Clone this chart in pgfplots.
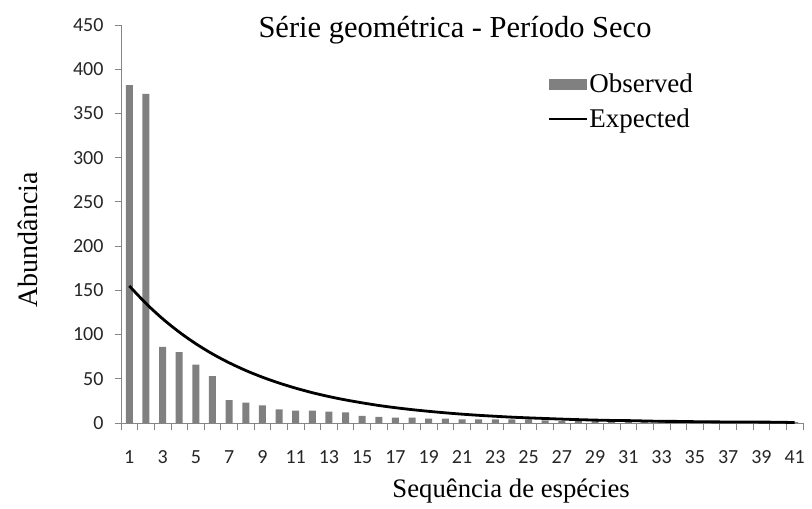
\documentclass[border=0pt]{standalone}
\usepackage{fontspec}
\setmainfont{Liberation Serif}
\newfontfamily\tickfont{Carlito}
\usepackage{pgfplots}
\pgfplotsset{compat=1.18}
\definecolor{bargray}{HTML}{808080}
\definecolor{axgray}{HTML}{868686}
\definecolor{ticktxt}{HTML}{262626}
\newcommand{\tickfmt}{\tickfont\fontsize{20bp}{24bp}\selectfont}

\begin{document}
\begin{tikzpicture}
\useasboundingbox (-121bp,-86bp) rectangle (691bp,423bp);
\begin{axis}[
  scale only axis, width=682bp, height=398bp,
  at={(0,0)}, anchor=south west,
  xmin=0.5, xmax=41.5, ymin=0, ymax=450,
  axis x line=bottom, axis y line=left,
  axis line style={-, draw=axgray, line width=0.8bp},
  tick align=outside,
  xtick={1,3,...,41},
  minor xtick={0.5,1.5,...,41.5},
  ytick={0,50,...,450},
  major tick length=6bp, minor tick length=7bp,
  major x tick style={draw=none},
  minor x tick style={draw=axgray, line width=0.8bp},
  major y tick style={draw=axgray, line width=0.8bp},
  /pgf/number format/assume math mode=true,
  xticklabel={\tickfmt\pgfmathprintnumber{\tick}},
  yticklabel={\tickfmt\pgfmathprintnumber{\tick}},
  tick label style={text=ticktxt},
  xticklabel shift=18bp, yticklabel shift=8bp,
  xlabel={Sequência de espécies},
  ylabel={Abundância},
  xlabel style={font=\fontsize{26.7bp}{30bp}\selectfont,
    at={(axis description cs:0.572,-0.188)}, anchor=base},
  ylabel style={font=\fontsize{28bp}{32bp}\selectfont,
    at={(axis description cs:-0.123,0.46)}, anchor=base},
  legend cell align=left,
  legend style={at={(axis description cs:0.626,0.88)}, anchor=north west,
    draw=none, fill=none, inner sep=0pt, row sep=13bp,
    font=\fontsize{27bp}{31bp}\selectfont,
    nodes={inner sep=1bp}},
]
\addplot[ybar, bar width=7bp, fill=bargray, draw=none,
  legend image code/.code={\fill[bargray] (0bp,-5.5bp) rectangle (38bp,5.5bp);}]
  coordinates {
  (1,382)(2,372)(3,86)(4,80)(5,66)(6,53)(7,26)(8,23)(9,20)(10,15.5)
  (11,14)(12,14)(13,13)(14,12)(15,8)(16,7)(17,6)(18,6)(19,5)(20,5)
  (21,4)(22,4)(23,4)(24,4)(25,4)(26,3)(27,2)(28,2)(29,2)(30,1)
  (31,1)(32,1)(33,1)(34,1)(35,1)(36,1)(37,1)(38,1)(39,1)(40,1)(41,1)};
\addlegendentry{Observed}
\addplot[black, line width=2.8bp, smooth,
  legend image code/.code={\draw[black, line width=2.2bp] (0bp,0bp) -- (38bp,0bp);}]
  coordinates {
  (1,155)(2,135.2)(3,117.9)(4,102.8)(5,89.6)(6,78.1)(7,68.1)(8,59.4)(9,51.8)(10,45.2)
  (11,39.4)(12,34.3)(13,29.9)(14,26.1)(15,22.8)(16,19.8)(17,17.3)(18,15.1)(19,13.2)(20,11.5)
  (21,10.0)(22,8.7)(23,7.6)(24,6.6)(25,5.8)(26,5.1)(27,4.4)(28,3.8)(29,3.3)(30,2.9)
  (31,2.7)(32,2.3)(33,1.9)(34,1.8)(35,1.5)(36,1.3)(37,1.2)(38,1.1)(39,1.0)(40,0.9)(41,0.5)};
\addlegendentry{Expected}
\end{axis}
\node[anchor=base, font=\fontsize{30.5bp}{36bp}\selectfont] at (334bp,385bp)
  {Série geométrica - Período Seco};
\end{tikzpicture}
\end{document}
